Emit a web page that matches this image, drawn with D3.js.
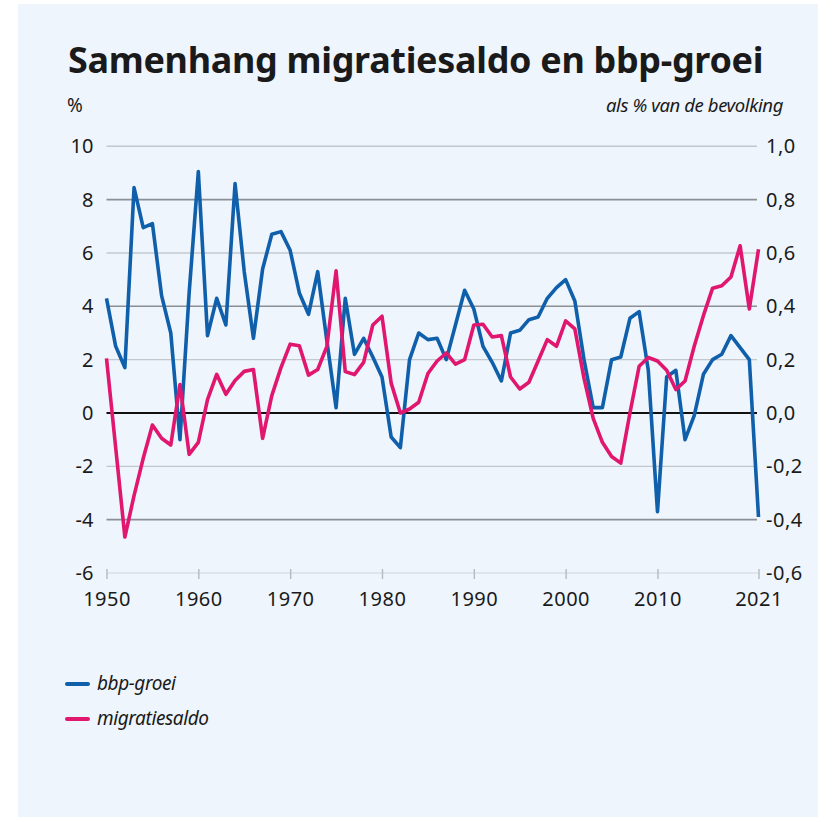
<!DOCTYPE html>
<html>
<head>
<meta charset="utf-8">
<script src="https://cdn.jsdelivr.net/npm/d3@7"></script>
<style>
  html, body { margin: 0; padding: 0; background: #ffffff; }
  svg { display: block; }
  text { font-family: "Noto Sans", "Open Sans", sans-serif; fill: #1a1a1a; }
</style>
</head>
<body>
<svg id="chart" width="834" height="822"></svg>
<script>
// Jaren en reeksen (bbp-groei in %, migratiesaldo als % van de bevolking)
const years = d3.range(1950, 2022);
const bbpGroei = [
  4.3, 2.5, 1.7, 8.45, 6.95, 7.1, 4.4, 3.0, -1.0, 4.5,
  9.05, 2.9, 4.3, 3.3, 8.6, 5.3, 2.8, 5.4, 6.7, 6.8,
  6.1, 4.5, 3.7, 5.3, 2.7, 0.2, 4.3, 2.2, 2.8, 2.1,
  1.35, -0.9, -1.3, 2.0, 3.0, 2.75, 2.8, 2.0, 3.3, 4.6,
  3.9, 2.5, 1.9, 1.2, 3.0, 3.1, 3.5, 3.6, 4.3, 4.7,
  5.0, 4.2, 2.0, 0.2, 0.2, 2.0, 2.1, 3.55, 3.8, 1.6,
  -3.7, 1.35, 1.6, -1.0, -0.1, 1.45, 2.0, 2.2, 2.9, 2.45,
  2.0, -3.9
];
const migratiesaldo = [
  0.205, -0.13, -0.465, -0.31, -0.17, -0.045, -0.095, -0.12, 0.107, -0.155,
  -0.11, 0.05, 0.145, 0.07, 0.122, 0.156, 0.163, -0.095, 0.065, 0.17,
  0.258, 0.252, 0.142, 0.163, 0.25, 0.533, 0.155, 0.144, 0.19, 0.33,
  0.363, 0.112, 0.0, 0.015, 0.04, 0.148, 0.195, 0.225, 0.183, 0.2,
  0.33, 0.333, 0.285, 0.29, 0.135, 0.09, 0.115, 0.195, 0.275, 0.25,
  0.345, 0.315, 0.13, -0.02, -0.11, -0.163, -0.188, 0.0, 0.175, 0.208,
  0.195, 0.16, 0.088, 0.12, 0.25, 0.365, 0.468, 0.477, 0.51, 0.627,
  0.39, 0.614
];
const leftTicks = [10, 8, 6, 4, 2, 0, -2, -4, -6];
const rightTicks = [1.0, 0.8, 0.6, 0.4, 0.2, 0.0, -0.2, -0.4, -0.6];
const yearTicks = [1950, 1960, 1970, 1980, 1990, 2000, 2010, 2021];
const seriesNames = ["bbp-groei", "migratiesaldo"];
const colors = { "bbp-groei": "#0f5fab", "migratiesaldo": "#e0166f" };

const svg = d3.select("#chart");

// achtergrondvlak
svg.append("rect")
  .attr("x", 18).attr("y", 4).attr("width", 800).attr("height", 813)
  .attr("fill", "#eef5fc");

const x = d3.scaleLinear().domain([1950, 2021]).range([106.5, 758.5]);
const yL = d3.scaleLinear().domain([-6, 10]).range([573, 146.3]);
const yR = d3.scaleLinear().domain([-0.6, 1.0]).range([573, 146.3]);

// titel, passend gemaakt op de breedte
function fitWidth(sel, w) {
  const len = sel.node().getComputedTextLength();
  const fs = parseFloat(sel.attr("font-size"));
  sel.attr("font-size", fs * w / len);
}
const title = svg.append("text")
  .attr("x", 68).attr("y", 73)
  .attr("font-size", 32).attr("font-weight", 700)
  .style("letter-spacing", "-0.3px")
  .text("Samenhang migratiesaldo en bbp-groei");
fitWidth(title, 694);

svg.append("text")
  .attr("x", 67).attr("y", 112)
  .attr("font-size", 19)
  .text("%");
svg.append("text")
  .attr("x", 783).attr("y", 112)
  .attr("text-anchor", "end")
  .attr("font-size", 18.5).attr("font-style", "italic")
  .style("letter-spacing", "-0.4px")
  .text("als % van de bevolking");

// rasterlijnen
const grid = svg.append("g");
leftTicks.filter(t => t !== -6 && t !== 0).forEach(t => {
  const dark = (t === 8 || t === 4 || t === -4);
  grid.append("line")
    .attr("x1", x(1950)).attr("x2", 757)
    .attr("y1", yL(t)).attr("y2", yL(t))
    .attr("stroke", dark ? "#8c9095" : "#c3c8cd")
    .attr("stroke-width", dark ? 1.6 : 1.4);
});

const numFont = "\"Noto Sans\", sans-serif";

// onderste as met streepjes
const xAxis = d3.axisBottom(x)
  .tickValues(yearTicks)
  .tickSize(9)
  .tickPadding(10)
  .tickFormat(d3.format("d"));
const gx = svg.append("g")
  .attr("transform", `translate(0,${yL(-6)})`)
  .call(xAxis);
gx.select(".domain").attr("stroke", "#d0d5da").attr("stroke-width", 1.2)
  .attr("d", `M${x(1950)},0H${x(2021)}`);
gx.selectAll(".tick line").attr("stroke", "#b5babf").attr("stroke-width", 1.4)
  .attr("y1", -4).attr("y2", 6);
gx.selectAll(".tick text")
  .attr("font-size", 20).attr("fill", "#1a1a1a")
  .style("letter-spacing", "0.5px")
  .style("font-family", numFont);

// linker as
const gl = svg.append("g")
  .attr("transform", `translate(${x(1950)},0)`)
  .call(d3.axisLeft(yL).tickValues(leftTicks).tickSize(0).tickPadding(13)
    .tickFormat(d => d < 0 ? "-" + Math.abs(d) : d));
gl.select(".domain").remove();
gl.selectAll(".tick text")
  .attr("font-size", 20).attr("fill", "#1a1a1a")
  .style("font-family", numFont);

// rechter as
const fmtR = d => (d < 0 ? "-" : "") + d3.format(".1f")(Math.abs(d)).replace(".", ",");
const gr = svg.append("g")
  .attr("transform", `translate(757,0)`)
  .call(d3.axisRight(yR).tickValues(rightTicks).tickSize(0).tickPadding(9)
    .tickFormat(fmtR));
gr.select(".domain").remove();
gr.selectAll(".tick text")
  .attr("font-size", 20).attr("fill", "#1a1a1a")
  .style("letter-spacing", "0.5px")
  .style("font-family", numFont);

// nullijn
svg.append("line")
  .attr("x1", x(1950)).attr("x2", 757)
  .attr("y1", yL(0)).attr("y2", yL(0))
  .attr("stroke", "#111").attr("stroke-width", 1.8);

// lijnen
const lineL = d3.line().x((d, i) => x(years[i])).y(d => yL(d));
const lineR = d3.line().x((d, i) => x(years[i])).y(d => yR(d));
svg.append("path").datum(bbpGroei)
  .attr("d", lineL).attr("fill", "none")
  .attr("stroke", colors["bbp-groei"]).attr("stroke-width", 3.6)
  .attr("stroke-linejoin", "round");
svg.append("path").datum(migratiesaldo)
  .attr("d", lineR).attr("fill", "none")
  .attr("stroke", colors["migratiesaldo"]).attr("stroke-width", 3.6)
  .attr("stroke-linejoin", "round");

// legenda
const leg = svg.append("g");
seriesNames.forEach((name, i) => {
  const yy = 684 + i * 35;
  leg.append("line")
    .attr("x1", 67).attr("x2", 88).attr("y1", yy).attr("y2", yy)
    .attr("stroke", colors[name]).attr("stroke-width", 4)
    .attr("stroke-linecap", "round");
  leg.append("text")
    .attr("x", 97).attr("y", yy + 6)
    .attr("font-size", 19).attr("font-style", "italic")
    .style("letter-spacing", "-0.4px")
    .text(name);
});
</script>
</body>
</html>
